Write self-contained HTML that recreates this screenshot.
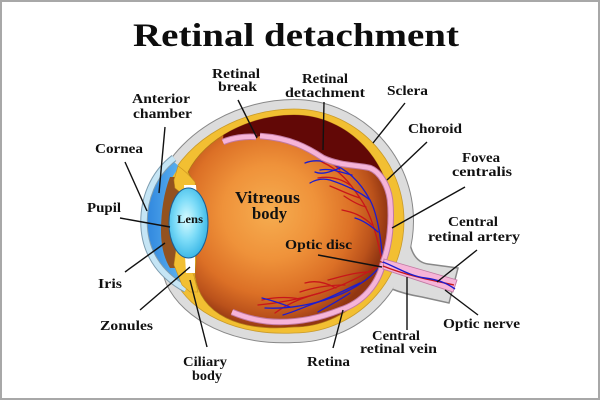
<!DOCTYPE html>
<html><head><meta charset="utf-8">
<style>
html,body{margin:0;padding:0;background:#fff;}
svg{display:block;}
.lb{font-family:"Liberation Serif",serif;font-weight:bold;font-size:14px;fill:#111;}
</style></head>
<body>
<svg width="600" height="400" viewBox="0 0 600 400" xmlns="http://www.w3.org/2000/svg">
<defs>
  <radialGradient id="vg" gradientUnits="userSpaceOnUse" cx="270" cy="212" r="118">
    <stop offset="0" stop-color="#f6ad50"/>
    <stop offset="0.4" stop-color="#ef923a"/>
    <stop offset="0.7" stop-color="#dc7026"/>
    <stop offset="0.88" stop-color="#bb521b"/>
    <stop offset="1" stop-color="#923612"/>
  </radialGradient>
  <radialGradient id="lg" cx="45%" cy="45%" r="60%">
    <stop offset="0" stop-color="#d8fbff"/>
    <stop offset="0.5" stop-color="#7ddcf8"/>
    <stop offset="1" stop-color="#32b2e4"/>
  </radialGradient>
  <linearGradient id="cg" x1="0" x2="1" y1="0" y2="0">
    <stop offset="0" stop-color="#2f86de"/>
    <stop offset="1" stop-color="#62b8f2"/>
  </linearGradient>
  <clipPath id="vc"><path d="M294,115 A99,106 0 0 1 294,327 C240,332 200,315 195,275 L196,262 L196,186 L188,172 C205,138 250,115 294,115 Z"/></clipPath>
</defs>

<rect x="1" y="1" width="598" height="398" fill="#fff" stroke="#a8a8a8" stroke-width="2"/>

<text x="133" y="46" font-family="Liberation Serif, serif" font-weight="bold" font-size="33" fill="#0d0d0d" textLength="326" lengthAdjust="spacingAndGlyphs">Retinal detachment</text>

<!-- sclera outline -->
<path d="M294,109 A110,112 0 0 1 294,333 C235,336 190,312 175,280 L168,260 L166,185 C190,135 245,109 294,109 Z" fill="none" stroke="#888" stroke-width="20"/>
<!-- optic nerve -->
<path d="M410,244 Q414,262 428,264 L458,268 L449,303 L422,297 Q404,294 392,289 Z" fill="#dcdcdc" stroke="#888" stroke-width="1.5"/>
<path d="M294,109 A110,112 0 0 1 294,333 C235,336 190,312 175,280 L168,260 L166,185 C190,135 245,109 294,109 Z" fill="none" stroke="#dcdcdc" stroke-width="18"/>
<path d="M294,109 A110,112 0 0 1 294,333 C235,336 190,312 175,280 L168,260 L166,185 C190,135 245,109 294,109 Z" fill="#f2bf32" stroke="#c99a2a" stroke-width="0.8"/>

<!-- vitreous -->
<path d="M294,115 A99,106 0 0 1 294,327 C240,332 200,315 195,275 L196,262 L196,186 L188,172 C205,138 250,115 294,115 Z" fill="url(#vg)" stroke="#b07818" stroke-width="0.8"/>

<!-- detachment maroon -->
<g clip-path="url(#vc)">
<path d="M223,142 C232,138 245,136 257,137 L260,136 C290,138 308,148 323,158 C340,166 358,165 370,168 C380,172 388,185 390,200 L430,200 L430,80 L226,80 Z" fill="#620806"/>
</g>

<!-- vessels -->
<g fill="none" stroke-width="1.3" stroke-linecap="round">
<g stroke="#c8161a">
<path d="M382,262 C378,240 372,215 360,198 C350,183 340,170 322,162"/>
<path d="M360,198 C350,195 340,190 330,186"/>
<path d="M350,185 C340,178 330,176 318,178"/>
<path d="M372,225 C362,215 352,212 342,210"/>
<path d="M340,170 C335,165 328,160 318,156"/>
<path d="M366,207 C358,205 350,200 344,196"/>
<path d="M382,263 C365,275 345,285 320,293 C300,299 280,303 258,305"/>
<path d="M345,285 C330,285 315,287 300,292"/>
<path d="M320,293 C305,297 290,302 275,313"/>
<path d="M370,272 C355,272 340,277 328,280"/>
<path d="M300,299 C285,296 270,298 262,300"/>
<path d="M336,288 C325,282 315,280 305,283"/>
</g>
<g stroke="#1c1cd0">
<path d="M383,262 C381,240 378,215 370,200 C362,185 350,170 330,163 C320,160 312,160 305,163"/>
<path d="M370,200 C360,192 345,185 330,180 C322,178 315,180 310,183"/>
<path d="M352,175 C340,172 330,168 320,170"/>
<path d="M378,232 C370,225 362,220 355,218"/>
<path d="M340,168 C330,172 322,175 315,172"/>
<path d="M383,263 C370,280 350,292 325,300 C305,306 285,309 265,308"/>
<path d="M360,283 C345,290 330,298 315,303"/>
<path d="M325,300 C310,304 297,311 283,315"/>
<path d="M290,307 C280,303 270,300 262,298"/>
<path d="M350,293 C340,300 330,305 318,312"/>
</g>
</g>

<!-- retina -->
<g fill="none" stroke-linejoin="round">
<g stroke="#c27aa3" stroke-width="6.5">
<path d="M223,142 C232,138 245,136 256,137"/>
<path d="M260,136 C290,138 308,148 323,158 C340,166 358,165 370,168 C380,172 388,185 390,200 C392,220 390,245 383,262"/>
<path d="M383,263 C378,285 362,303 340,310 C320,318 300,322 280,322 C262,322 246,318 232,312"/>
</g>
<g stroke="#f6b4d8" stroke-width="4.5">
<path d="M223,142 C232,138 245,136 256,137"/>
<path d="M260,136 C290,138 308,148 323,158 C340,166 358,165 370,168 C380,172 388,185 390,200 C392,220 390,245 383,262"/>
<path d="M383,263 C378,285 362,303 340,310 C320,318 300,322 280,322 C262,322 246,318 232,312"/>
</g>
</g>

<!-- nerve pink -->
<path d="M384,259 L457,280 L453,292 L383,269 Z" fill="#f6b4d8" stroke="#c27aa3" stroke-width="0.9"/>
<g fill="none" stroke-width="1.4">
<path d="M383,266 C405,275 430,280 454,285" stroke="#c8161a"/>
<path d="M383,262 C398,268 410,276 425,278 C440,280 448,284 455,289" stroke="#1c1cd0"/>
</g>

<!-- cornea / anterior chamber -->
<path d="M174,162 C153,178 146,202 146,222 C146,246 158,270 184,285 L186,277 C178,270 172,262 170,255 L167,190 C170,180 175,172 180,167 Z" fill="url(#cg)"/>
<path d="M174,158 C152,175 144,200 144,222 C144,250 158,274 186,289" fill="none" stroke="#7e9db0" stroke-width="7.5"/>
<path d="M174,158 C152,175 144,200 144,222 C144,250 158,274 186,289" fill="none" stroke="#c5e5f5" stroke-width="5.5"/>

<!-- iris -->
<path d="M170,177 C164,192 161,212 161,230 C161,246 164,258 170,268 L179,268 L179,177 Z" fill="#93521f"/>
<!-- ciliary body blobs -->
<path d="M178,166 C184,170 190,176 195,182 L196,192 L188,196 L183,199 L180,192 L175,188 L174,180 Z" fill="#f2bf32" stroke="#c8901e" stroke-width="0.6"/>
<path d="M176,250 L182,252 L186,258 L190,266 L194,276 L198,292 L190,292 L182,285 L178,275 L174,265 Z" fill="#f2bf32" stroke="#c8901e" stroke-width="0.6"/>
<!-- zonules -->
<path d="M184,185 L196,185 L197,198 L185,199 Z" fill="#fff"/>
<path d="M185,256 L195,256 L195,273 L186,273 Z" fill="#fff"/>
<!-- lens -->
<ellipse cx="188.5" cy="223" rx="19.5" ry="35" fill="url(#lg)" stroke="#1b5e95" stroke-width="1"/>

<!-- leader lines -->
<g stroke="#111" stroke-width="1.4" fill="none">
<line x1="238" y1="100" x2="257" y2="138"/>
<line x1="324" y1="102" x2="323" y2="150"/>
<line x1="165" y1="127" x2="159" y2="193"/>
<line x1="125" y1="162" x2="147" y2="211"/>
<line x1="405" y1="103" x2="373" y2="143"/>
<line x1="427" y1="142" x2="387" y2="180"/>
<line x1="465" y1="187" x2="392" y2="228"/>
<line x1="120" y1="218" x2="170" y2="227"/>
<line x1="125" y1="272" x2="165" y2="243"/>
<line x1="140" y1="310" x2="190" y2="267"/>
<line x1="207" y1="347" x2="190" y2="280"/>
<line x1="333" y1="348" x2="343" y2="310"/>
<line x1="318" y1="255" x2="382" y2="267"/>
<line x1="477" y1="250" x2="437" y2="282"/>
<line x1="478" y1="315" x2="445" y2="290"/>
<line x1="407" y1="330" x2="407" y2="277"/>
</g>

<!-- labels -->
<text class="lb" x="212" y="78" textLength="48" lengthAdjust="spacingAndGlyphs">Retinal</text>
<text class="lb" x="218" y="91" textLength="39" lengthAdjust="spacingAndGlyphs">break</text>
<text class="lb" x="302" y="83" textLength="46" lengthAdjust="spacingAndGlyphs">Retinal</text>
<text class="lb" x="285" y="97" textLength="80" lengthAdjust="spacingAndGlyphs">detachment</text>
<text class="lb" x="132" y="103" textLength="58" lengthAdjust="spacingAndGlyphs">Anterior</text>
<text class="lb" x="133" y="118" textLength="59" lengthAdjust="spacingAndGlyphs">chamber</text>
<text class="lb" x="95" y="153" textLength="48" lengthAdjust="spacingAndGlyphs">Cornea</text>
<text class="lb" x="387" y="95" textLength="41" lengthAdjust="spacingAndGlyphs">Sclera</text>
<text class="lb" x="408" y="133" textLength="54" lengthAdjust="spacingAndGlyphs">Choroid</text>
<text class="lb" x="462" y="162" textLength="38" lengthAdjust="spacingAndGlyphs">Fovea</text>
<text class="lb" x="452" y="176" textLength="60" lengthAdjust="spacingAndGlyphs">centralis</text>
<text class="lb" x="87" y="212" textLength="34" lengthAdjust="spacingAndGlyphs">Pupil</text>
<text class="lb" x="235" y="203" textLength="65" lengthAdjust="spacingAndGlyphs" style="font-size:17px">Vitreous</text>
<text class="lb" x="252" y="219" textLength="35" lengthAdjust="spacingAndGlyphs" style="font-size:17px">body</text>
<text class="lb" x="177" y="223" textLength="26" lengthAdjust="spacingAndGlyphs" style="font-size:12px">Lens</text>
<text class="lb" x="448" y="226" textLength="50" lengthAdjust="spacingAndGlyphs">Central</text>
<text class="lb" x="428" y="241" textLength="92" lengthAdjust="spacingAndGlyphs">retinal artery</text>
<text class="lb" x="285" y="249" textLength="67" lengthAdjust="spacingAndGlyphs">Optic disc</text>
<text class="lb" x="98" y="288" textLength="24" lengthAdjust="spacingAndGlyphs">Iris</text>
<text class="lb" x="100" y="330" textLength="53" lengthAdjust="spacingAndGlyphs">Zonules</text>
<text class="lb" x="443" y="328" textLength="77" lengthAdjust="spacingAndGlyphs">Optic nerve</text>
<text class="lb" x="372" y="340" textLength="48" lengthAdjust="spacingAndGlyphs">Central</text>
<text class="lb" x="360" y="353" textLength="77" lengthAdjust="spacingAndGlyphs">retinal vein</text>
<text class="lb" x="183" y="366" textLength="44" lengthAdjust="spacingAndGlyphs">Ciliary</text>
<text class="lb" x="192" y="380" textLength="30" lengthAdjust="spacingAndGlyphs">body</text>
<text class="lb" x="307" y="366" textLength="43" lengthAdjust="spacingAndGlyphs">Retina</text>
</svg>
</body></html>
